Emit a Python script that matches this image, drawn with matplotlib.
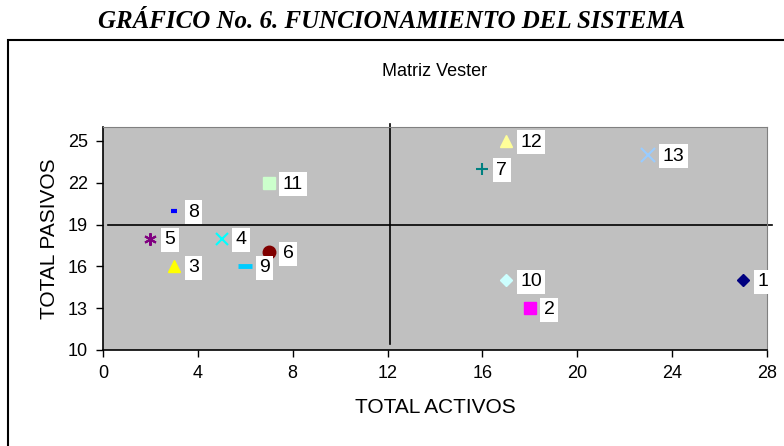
import matplotlib.pyplot as plt
from matplotlib.patches import Rectangle

# Matriz Vester: active vs passive totals for each problem
labels = ["1", "2", "3", "4", "5", "6", "7", "8", "9", "10", "11", "12", "13"]
activos = [27, 18, 3, 5, 2, 7, 16, 3, 6, 17, 7, 17, 23]
pasivos = [15, 13, 16, 18, 18, 17, 23, 20, 16, 15, 22, 25, 24]

# quadrant dividing lines
corte_x = 12.1
corte_y = 19

x_ticks = [0, 4, 8, 12, 16, 20, 24, 28]
y_ticks = [10, 13, 16, 19, 22, 25]

# excel-like marker per series
styles = [
    dict(marker="D", color="#000080", ms=6),
    dict(marker="s", color="#FF00FF", ms=9),
    dict(marker="^", color="#FFFF00", ms=9),
    dict(marker="x", color="#00FFFF", ms=9, mew=1.5),
    dict(marker=(6, 2, 0), color="#800080", ms=9, mew=1.5),
    dict(marker="o", color="#800000", ms=9),
    dict(marker="+", color="#008080", ms=9, mew=1.5),
    dict(marker="_", color="#0000FF", ms=5, mew=3),
    dict(marker="_", color="#00CCFF", ms=10, mew=3.5),
    dict(marker="D", color="#CCFFFF", ms=6),
    dict(marker="s", color="#CCFFCC", ms=9),
    dict(marker="^", color="#FFFF99", ms=9),
    dict(marker="x", color="#99CCFF", ms=10, mew=1.5),
]

plt.rcParams["font.family"] = ["Liberation Sans", "DejaVu Sans"]

fig = plt.figure(figsize=(7.84, 4.46), dpi=100)

# chart area border (only left and top edges show in the crop)
fig.patches.append(Rectangle((8 / 784, -0.1), 1.2, 1 - 40 / 446 + 0.1,
                             transform=fig.transFigure, fill=False,
                             edgecolor="black", linewidth=1.5))

fig.text(0.5, 1 - 21 / 446, "GRÁFICO No. 6. FUNCIONAMIENTO DEL SISTEMA",
         ha="center", va="center", family="Liberation Serif",
         fontsize=18, fontweight="bold", fontstyle="italic")

ax = fig.add_axes([103 / 784, 1 - 350 / 446, (767 - 103) / 784, (350 - 127) / 446])
ax.set_facecolor("#C0C0C0")

for x, y, lab, st in zip(activos, pasivos, labels, styles):
    ax.plot([x], [y], linestyle="none", marker=st["marker"], color=st["color"],
            markersize=st["ms"], markeredgewidth=st.get("mew", 1), clip_on=False, zorder=3)
    ax.annotate(lab, (x, y), xytext=(10, -1), textcoords="offset points",
                ha="left", va="center", fontsize=14,
                bbox=dict(boxstyle="square,pad=0.18", facecolor="white", edgecolor="none"),
                zorder=4, annotation_clip=False)

ax.plot([corte_x, corte_x], [10.4, 26.2], color="black", linewidth=1.2, clip_on=False, zorder=2)
ax.plot([0.2, 28.2], [corte_y, corte_y], color="black", linewidth=1.2, clip_on=False, zorder=2)

ax.set_xlim(0, 28)
ax.set_ylim(10, 26)
ax.set_xticks(x_ticks)
ax.set_yticks(y_ticks)
ax.tick_params(direction="out", length=5, width=1, labelsize=13, pad=6)

for side in ["top", "right"]:
    ax.spines[side].set_color("#808080")
for side in ["left", "bottom"]:
    ax.spines[side].set_color("black")
    ax.spines[side].set_linewidth(1.2)

ax.set_xlabel("TOTAL ACTIVOS", fontsize=15, labelpad=11)
ax.set_ylabel("TOTAL PASIVOS", fontsize=15, labelpad=6)
ax.set_title("Matriz Vester", fontsize=13, pad=37)

fig.savefig("out.png", dpi=100)
